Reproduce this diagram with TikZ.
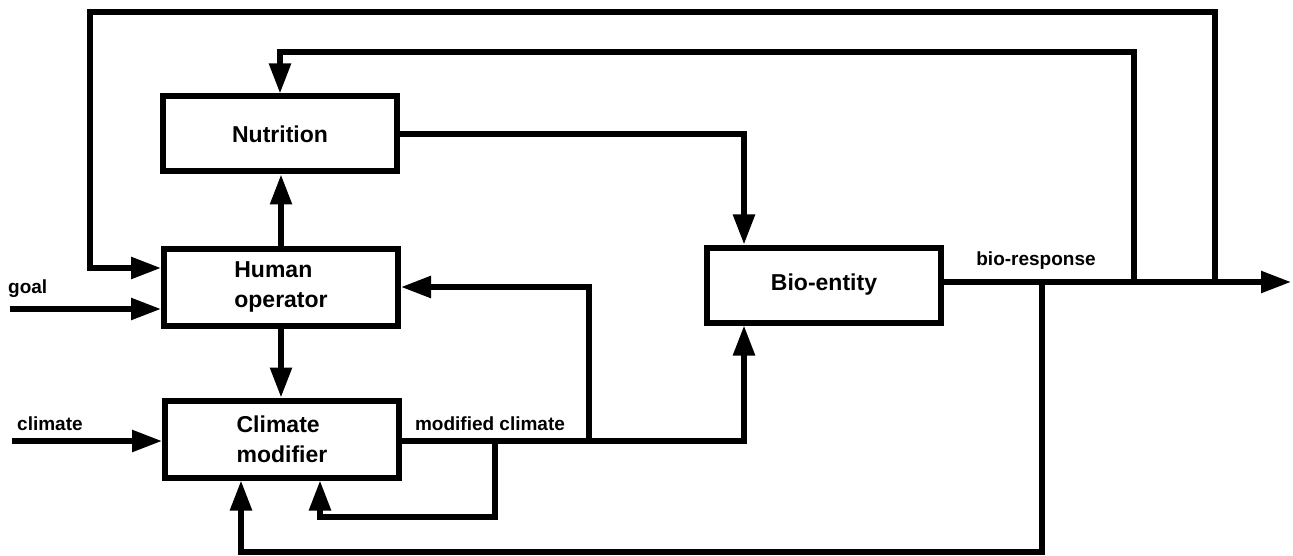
\documentclass[tikz,border=0pt]{standalone}
\usepackage{fontspec}
\setmainfont{Liberation Sans}
\usetikzlibrary{arrows.meta,calc}
\begin{document}
\begin{tikzpicture}[x=1pt,y=-1pt,
  blk/.style={draw=black,line width=6pt,minimum width=234pt,minimum height=75pt,inner sep=0pt,align=left,font=\fontsize{23}{30}\selectfont\bfseries},
  conn/.style={draw=black,line width=5.5pt},
  arr/.style={conn,-{Triangle[length=30pt,width=21pt]}},
  lbl/.style={font=\fontsize{19}{22}\selectfont\bfseries,inner sep=0pt}]
\useasboundingbox[fill=white] (0,0) rectangle (1293,556);
% blocks
\node[blk] (nut) at (280,134) {Nutrition};
\node[blk,minimum height=77pt] (hum) at (281,287) {Human\\operator};
\node[blk,minimum height=77pt] (cli) at (282,439) {Climate\\modifier};
\node[blk] (bio) at (824,285) {Bio-entity};
% helper coordinates
\coordinate (out) at (1291,282);
\coordinate (j3) at (1042,282);
\coordinate (j1) at (1134,282);
\coordinate (j2) at (1215,282);
\coordinate (tl) at (90,12);
\coordinate (sl) at (280,52);
\coordinate (g) at (10,309);
\coordinate (c) at (12,441);
\coordinate (m1) at (589,441);
\coordinate (m2) at (495,441);
\coordinate (bl) at (1042,552);
% output line
\draw[arr] (bio.east |- out) -- (out);
% outer feedback to human operator
\draw[arr] (j2) |- (tl) |- ([yshift=19pt]hum.west);
% feedback to nutrition
\draw[arr] (j1) |- (sl) -- (nut.north);
% nutrition to bio-entity
\draw[arr] (nut.east) -| ([xshift=-80pt]bio.north);
% human operator to nutrition and to climate modifier
\draw[arr] (hum.north) -- (nut.south -| hum.north);
\draw[arr] (hum.south) -- (cli.north -| hum.south);
% inputs
\draw[arr] (g) -- (g -| hum.west);
\draw[arr] (c) -- (c -| cli.west);
\node[lbl,anchor=south west] (goal) at (8,298) {goal};
\node[lbl,anchor=south west] (clim) at (17,431) {climate};
% modified climate
\draw[arr] (cli.east |- m1) -| ([xshift=-80pt]bio.south);
\draw[arr] (m1) |- (hum.east);
\draw[arr] (m2) -- ++(0,76) -| ([xshift=38pt]cli.south);
\node[lbl,anchor=south] (mclab) at (490,431) {modified climate};
% bio-response feedback
\draw[arr] (j3) -- (bl) -| ([xshift=-41pt]cli.south);
\node[lbl,anchor=south] (brlab) at (1036,270) {bio-response};
\end{tikzpicture}
\end{document}
